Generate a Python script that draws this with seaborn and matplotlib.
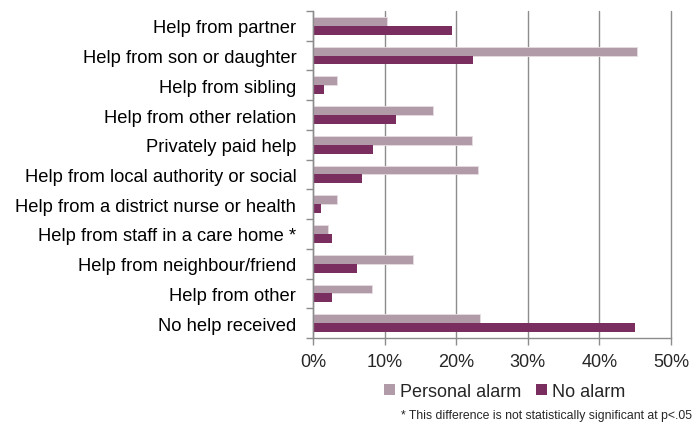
import matplotlib
matplotlib.use("Agg")
import matplotlib.pyplot as plt
import seaborn as sns
import pandas as pd
import numpy as np
from matplotlib.ticker import FixedLocator, PercentFormatter

categories = [
    "Help from partner",
    "Help from son or daughter",
    "Help from sibling",
    "Help from other relation",
    "Privately paid help",
    "Help from local authority or social",
    "Help from a district nurse or health",
    "Help from staff in a care home *",
    "Help from neighbour/friend",
    "Help from other",
    "No help received",
]
personal_alarm = [10.3, 45.3, 3.4, 16.8, 22.2, 23.0, 3.4, 2.1, 14.0, 8.2, 23.3]
no_alarm = [19.4, 22.4, 1.5, 11.6, 8.4, 6.9, 1.1, 2.6, 6.1, 2.6, 45.0]
series = ["Personal alarm", "No alarm"]
colors = ["#B19BA9", "#7A2D5F"]
xticks = [0, 10, 20, 30, 40, 50]

df = pd.DataFrame({
    "category": categories * 2,
    "value": personal_alarm + no_alarm,
    "series": [series[0]] * len(categories) + [series[1]] * len(categories),
})

sns.set_theme(style="white")
plt.rcParams["font.family"] = ["Liberation Sans", "DejaVu Sans"]

fig = plt.figure(figsize=(6.94, 4.27), dpi=100)
ax = fig.add_axes([0.451, 0.206, 0.516, 0.766])

sns.barplot(data=df, x="value", y="category", hue="series", order=categories,
            hue_order=series, palette=colors, width=0.6, ax=ax, legend=True,
            saturation=1, edgecolor="none")

for p in ax.patches[:len(categories)]:
    p.set_edgecolor("#E6DCE2")
    p.set_linewidth(0.6)

ax.set_xlim(0, 50)
ax.set_ylim(len(categories) - 0.5, -0.5)
ax.set_xticks(xticks)
ax.xaxis.set_major_formatter(PercentFormatter(decimals=0))
ax.xaxis.grid(True, color="#8C8C8C", linewidth=1.0)
for gl in ax.get_xgridlines():
    gl.set_clip_on(False)
ax.set_axisbelow(True)
ax.set_xlabel("")
ax.set_ylabel("")

for s in ["top", "right"]:
    ax.spines[s].set_visible(False)
for s in ["left", "bottom"]:
    ax.spines[s].set_color("#8C8C8C")
    ax.spines[s].set_linewidth(1.0)

ax.tick_params(axis="y", which="major", length=0, labelsize=13.2, pad=12, colors="black")
ax.yaxis.set_minor_locator(FixedLocator(np.arange(-0.5, len(categories), 1)))
ax.tick_params(axis="y", which="minor", length=5, color="#8C8C8C", width=1, left=True)
ax.tick_params(axis="x", which="major", length=5, color="#8C8C8C", width=1,
               labelsize=13, pad=6, bottom=True)

ax.legend(loc="upper center", bbox_to_anchor=(0.536, -0.088), ncol=2, frameon=False,
          fontsize=13, handlelength=0.6, handleheight=0.6, handletextpad=0.3,
          columnspacing=0.8)

fig.text(0.997, 0.0115, "* This difference is not statistically significant at p<.05",
         ha="right", va="bottom", fontsize=8.8)

fig.savefig("out.png", dpi=100)
